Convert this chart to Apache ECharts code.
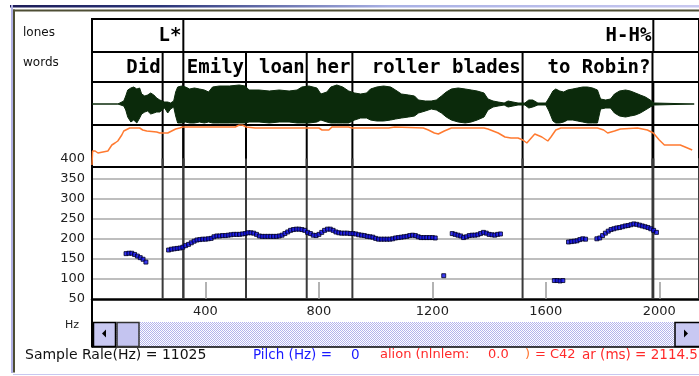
<!DOCTYPE html>
<html>
<head>
<meta charset="utf-8">
<script src="https://cdn.jsdelivr.net/npm/echarts@6/dist/echarts.min.js"></script>
<style>
  html, body { margin: 0; padding: 0; background: #fff; }
  #chart { width: 699px; height: 376px; }
</style>
</head>
<body>
<div id="chart"></div>
<script>
// ---- Annotation tiers (times in ms, each entry is the end of an interval) ----
const toneLabels = ['L*', 'H-H%', ''];
const toneEnds   = [322, 1979, 2140];
const wordLabels = ['Did', '', 'Emily', 'loan', 'her', 'roller blades', 'to Robin?', ''];
const wordEnds   = [249, 322, 543, 757, 918, 1518, 1976, 2140];

// ---- Waveform envelope (time in ms, positive / negative peak amplitude) ----
const waveTime  = [0, 91, 98, 112, 119, 126, 137, 147, 158, 168,
  175, 186, 196, 207, 218, 228, 239, 246, 256, 267,
  277, 288, 295, 302, 316, 330, 344, 361, 379, 396,
  411, 425, 449, 484, 519, 540, 554, 589, 625, 660,
  695, 723, 740, 765, 793, 807, 828, 842, 863, 884,
  905, 926, 947, 968, 982, 1004, 1028, 1053, 1070, 1091,
  1116, 1137, 1151, 1175, 1196, 1214, 1232, 1249, 1267, 1291,
  1316, 1337, 1358, 1382, 1396, 1414, 1432, 1453, 1467, 1484,
  1502, 1526, 1540, 1554, 1572, 1600, 1611, 1625, 1635, 1649,
  1663, 1677, 1695, 1712, 1730, 1747, 1765, 1782, 1793, 1811,
  1828, 1842, 1860, 1881, 1898, 1916, 1933, 1951, 1968, 1982,
  2123];
const waveUpper = [0, 0, 2, 3, 8, 14, 16, 17, 15, 16,
  10, 8, 9, 11, 9, 6, 4, 5, 2, 2,
  1, 3, 12, 17, 18, 17, 15, 16, 15, 14,
  12, 17, 18, 18, 19, 18, 14, 14, 13, 14,
  13, 14, 17, 18, 16, 10, 12, 17, 19, 17,
  13, 11, 10, 11, 15, 17, 18, 17, 14, 10,
  9, 8, 4, 3, 3, 4, 8, 12, 15, 16,
  15, 14, 13, 11, 5, 3, 2, 1, 3, 2,
  1, 1, 4, 4, 1, 1, 6, 13, 15, 13,
  12, 14, 15, 16, 17, 17, 16, 14, 5, 4,
  5, 10, 13, 14, 13, 11, 9, 7, 4, 1,
  0];
const waveLower = [0, 0, -1, -2, -6, -13, -18, -16, -19, -14,
  -10, -8, -7, -10, -9, -8, -8, -6, -4, -9,
  -5, -3, -12, -19, -19, -18, -19, -19, -18, -19,
  -18, -19, -19, -19, -19, -19, -18, -18, -19, -18,
  -18, -19, -19, -19, -18, -16, -18, -19, -19, -19,
  -19, -16, -14, -14, -16, -17, -17, -16, -15, -14,
  -13, -12, -9, -7, -5, -6, -9, -13, -16, -18,
  -19, -18, -16, -13, -6, -3, -2, -1, -3, -2,
  -1, -1, -4, -3, -1, -1, -7, -17, -19, -19,
  -18, -16, -16, -17, -18, -19, -19, -19, -5, -4,
  -4, -9, -12, -13, -12, -11, -9, -6, -3, -1,
  0];

// ---- Intensity contour (time in ms, level) ----
const intTime = [0, 2, 11, 21, 28, 56, 63, 70, 81, 91,
  98, 105, 112, 119, 133, 168, 179, 193, 228, 239,
  267, 281, 295, 309, 319, 505, 519, 530, 544, 575,
  800, 811, 835, 846, 905, 916, 1046, 1067, 1168, 1186,
  1207, 1221, 1242, 1267, 1382, 1396, 1432, 1456, 1477, 1502,
  1519, 1533, 1561, 1586, 1607, 1618, 1635, 1653, 1782, 1804,
  1818, 1842, 1863, 1923, 1958, 1979, 2000, 2018, 2074, 2091,
  2116];
const intLevel = [2, 16, 16, 14, 16, 16, 17, 22, 24, 26,
  28, 32, 36, 38, 39, 39, 37, 36, 35, 34,
  34, 36, 38, 39, 40, 40, 42, 42, 40, 39,
  39, 37, 37, 40, 40, 39, 39, 40, 39, 37,
  34, 33, 36, 39, 39, 38, 34, 30, 29, 29,
  27, 24, 33, 30, 26, 30, 37, 39, 39, 37,
  34, 36, 38, 39, 37, 34, 27, 22, 22, 20,
  17];

// ---- Pitch track (time in ms, F0 in Hz) ----
const pitchTime = [120, 130, 140, 150, 160, 170, 180, 190,
  270, 280, 290, 300, 310, 320, 330, 340, 350, 360, 370, 380, 390, 400, 410, 420,
  430, 440, 450, 460, 470, 480, 490, 500, 510, 520, 530, 540, 550, 560, 570, 580,
  590, 600, 610, 620, 630, 640, 650, 660, 670, 680, 690, 700, 710, 720, 730, 740,
  750, 760, 770, 780, 790, 800, 810, 820, 830, 840, 850, 860, 870, 880, 890, 900,
  910, 920, 930, 940, 950, 960, 970, 980, 990, 1000, 1010, 1020, 1030, 1040, 1050,
  1060, 1070, 1080, 1090, 1100, 1110, 1120, 1130, 1140, 1150, 1160, 1170, 1180,
  1190, 1200, 1210,
  1240,
  1270, 1280, 1290, 1300, 1310, 1320, 1330, 1340, 1350, 1360, 1370, 1380, 1390,
  1400, 1410, 1420, 1430, 1440,
  1630, 1640, 1650, 1660,
  1680, 1690, 1700, 1710, 1720, 1730, 1740,
  1780, 1790, 1800, 1810, 1820, 1830, 1840, 1850, 1860, 1870, 1880, 1890, 1900,
  1910, 1920, 1930, 1940, 1950, 1960, 1970, 1980, 1990];
const pitchHz = [163, 164, 164, 161, 157, 153, 149, 142,
  172, 174, 175, 176, 177, 179, 183, 186, 190, 194, 197, 198, 199, 199, 200, 201,
  205, 207, 207, 208, 208, 209, 210, 211, 211, 211, 212, 213, 215, 215, 214, 211,
  207, 206, 206, 206, 206, 206, 206, 207, 209, 213, 217, 221, 223, 224, 224, 223,
  221, 216, 213, 209, 208, 211, 216, 221, 224, 224, 221, 217, 215, 214, 214, 214,
  213, 213, 212, 210, 209, 208, 206, 205, 204, 201, 199, 199, 199, 199, 199,
  200, 202, 203, 204, 205, 206, 208, 209, 208, 205, 203, 203, 203,
  203, 203, 202,
  108,
  213, 211, 209, 207, 203, 205, 208, 209, 209, 210, 213, 216, 214,
  211, 210, 209, 211, 212,
  96, 96, 95, 96,
  192, 193, 194, 195, 198, 200, 199,
  200, 202, 208, 214, 219, 223, 225, 227, 228, 230, 232, 233, 235,
  237, 236, 234, 232, 230, 228, 225, 221, 216];

// ---- Axis ticks ----
const pitchTicks = [50, 100, 150, 200, 250, 300, 350, 400];
const timeTicks  = [400, 800, 1200, 1600, 2000];

// ---- Status line ----
const statusItems = [
  { text: 'Sample Rale(Hz) = 11025', x: 25,  color: '#111111', size: 14 },
  { text: 'Pilch (Hz) =',            x: 253, color: '#1a1aff', size: 13.5 },
  { text: '0',                       x: 351, color: '#1a1aff', size: 13.5 },
  { text: 'alion (nlnlem:',          x: 380, color: '#ff2a2a', size: 13 },
  { text: '0.0',                     x: 488, color: '#ff2a2a', size: 13 },
  { text: ')',                       x: 525, color: '#ff7733', size: 13 },
  { text: '= C42',                   x: 535, color: '#ff2a2a', size: 13 },
  { text: 'ar (ms) = 2114.5',        x: 582, color: '#ff2a2a', size: 13.5 }
];

const X_MAX = 2140;
const INK = '#0b2a0b';
const boundaries = wordEnds.concat(toneEnds);

const chart = echarts.init(document.getElementById('chart'), null, { renderer: 'canvas' });

function tierSeries(gridIdx, labels, ends) {
  return {
    type: 'custom', xAxisIndex: gridIdx, yAxisIndex: gridIdx,
    data: ends.map((e, i) => [e, i]),
    renderItem: function (params, api) {
      const cs = params.coordSys;
      const x = api.coord([api.value(0), 0])[0];
      const yMid = cs.y + cs.height / 2;
      return {
        type: 'group',
        children: [
          { type: 'line', shape: { x1: x, y1: cs.y, x2: x, y2: cs.y + cs.height },
            style: { stroke: '#000', lineWidth: 2 } },
          { type: 'text',
            style: { text: labels[api.value(1)], x: x - 2, y: yMid + 1,
              align: 'right', verticalAlign: 'middle',
              textAlign: 'right', textVerticalAlign: 'middle',
              font: 'bold 19px "DejaVu Sans Mono"', fill: '#000' } }
        ]
      };
    }
  };
}

function boundarySeries(gridIdx, color) {
  return {
    type: 'custom', xAxisIndex: gridIdx, yAxisIndex: gridIdx, z: 1,
    data: boundaries.map(e => [e]),
    renderItem: function (params, api) {
      const cs = params.coordSys;
      const x = api.coord([api.value(0), 0])[0];
      return { type: 'line', shape: { x1: x, y1: cs.y, x2: x, y2: cs.y + cs.height },
        style: { stroke: color, lineWidth: 2 } };
    }
  };
}

// dithered lavender fill for the scroll track
const dither = document.createElement('canvas');
dither.width = 2; dither.height = 2;
(function () {
  const c = dither.getContext('2d');
  c.fillStyle = '#ffffff'; c.fillRect(0, 0, 2, 2);
  c.fillStyle = '#b4b4ec'; c.fillRect(0, 0, 1, 1); c.fillRect(1, 1, 1, 1);
})();

const gridBase = { left: 92, width: 610, show: true, borderColor: '#000', borderWidth: 2, backgroundColor: 'transparent' };
const hiddenX = gi => ({ type: 'value', gridIndex: gi, min: 0, max: X_MAX, show: false });

const labelFont = { fontFamily: 'DejaVu Sans', fontSize: 13, color: '#222' };

const option = {
  animation: false,
  backgroundColor: '#fff',
  grid: [
    Object.assign({ top: 19, height: 33 }, gridBase),
    Object.assign({ top: 52, height: 30 }, gridBase),
    Object.assign({ top: 82, height: 43 }, gridBase),
    Object.assign({ top: 125, height: 42 }, gridBase),
    { left: 92, width: 610, top: 158.5, height: 140.5, show: false }
  ],
  xAxis: [
    hiddenX(0), hiddenX(1), hiddenX(2), hiddenX(3),
    {
      type: 'value', gridIndex: 4, min: 0, max: X_MAX, interval: 400,
      axisLine: { show: true, onZero: false, lineStyle: { color: '#000', width: 2.5 } },
      axisTick: { show: true, inside: true, length: 17, lineStyle: { color: '#9a9a9a', width: 1.5 } },
      axisLabel: Object.assign({ margin: 6, showMinLabel: false, showMaxLabel: false,
        formatter: v => (timeTicks.indexOf(v) >= 0 ? String(v) : '') }, labelFont),
      splitLine: { show: false }
    }
  ],
  yAxis: [
    { type: 'value', gridIndex: 0, min: 0, max: 1, show: false },
    { type: 'value', gridIndex: 1, min: 0, max: 1, show: false },
    { type: 'value', gridIndex: 2, min: -21, max: 22, show: false },
    { type: 'value', gridIndex: 3, min: 0, max: 42, show: false },
    {
      type: 'value', gridIndex: 4, min: pitchTicks[0], max: pitchTicks[pitchTicks.length - 1], interval: 50,
      axisLine: { show: true, onZero: false, lineStyle: { color: '#000', width: 2 } },
      axisTick: { show: false },
      axisLabel: Object.assign({ margin: 7 }, labelFont),
      splitLine: { show: true, showMinLine: false, showMaxLine: false,
        lineStyle: { color: '#a8a8a8', width: 1.5 } }
    }
  ],
  series: [
    tierSeries(0, toneLabels, toneEnds),
    tierSeries(1, wordLabels, wordEnds),
    {
      type: 'line', xAxisIndex: 2, yAxisIndex: 2, symbol: 'none', z: 2,
      data: waveTime.map((t, i) => [t, waveUpper[i]]),
      lineStyle: { color: INK, width: 1 }, areaStyle: { color: INK, opacity: 1 }
    },
    {
      type: 'line', xAxisIndex: 2, yAxisIndex: 2, symbol: 'none', z: 2,
      data: waveTime.map((t, i) => [t, waveLower[i]]),
      lineStyle: { color: INK, width: 1 }, areaStyle: { color: INK, opacity: 1 }
    },
    boundarySeries(2, '#000'),
    {
      type: 'line', xAxisIndex: 3, yAxisIndex: 3, symbol: 'none', z: 3,
      data: intTime.map((t, i) => [t, intLevel[i]]),
      lineStyle: { color: '#ff7a30', width: 1.5 }
    },
    boundarySeries(3, '#000'),
    boundarySeries(4, '#3a3a3a'),
    {
      type: 'scatter', xAxisIndex: 4, yAxisIndex: 4, z: 4,
      symbol: 'rect', symbolSize: 4,
      data: pitchTime.map((t, i) => [t, pitchHz[i]]),
      itemStyle: { color: '#0808f0', borderColor: '#000022', borderWidth: 1 }
    }
  ],
  graphic: [
    // window frame
    { type: 'rect', shape: { x: 10, y: 5, width: 689, height: 2.5 }, silent: true,
      style: { fill: new echarts.graphic.LinearGradient(0, 0, 1, 0, [
        { offset: 0, color: '#1c1c58' }, { offset: 0.22, color: '#2a3478' },
        { offset: 0.55, color: '#a8b0e4' }, { offset: 1, color: '#c8c8f0' }]) } },
    { type: 'rect', shape: { x: 11, y: 5, width: 2, height: 368 }, style: { fill: '#b0b0e4' }, silent: true },
    { type: 'rect', shape: { x: 13, y: 9.5, width: 686, height: 2 }, style: { fill: '#4e4e34' }, silent: true },
    { type: 'rect', shape: { x: 13, y: 9.5, width: 2, height: 363 }, style: { fill: '#4e4e34' }, silent: true },
    { type: 'rect', shape: { x: 13, y: 374, width: 686, height: 1 }, style: { fill: '#c8c8f0' }, silent: true },
    // tier names
    { type: 'text', x: 23, y: 33, silent: true,
      style: { text: 'lones', font: '12px "DejaVu Sans"', fill: '#111', verticalAlign: 'middle', textVerticalAlign: 'middle' } },
    { type: 'text', x: 23, y: 63, silent: true,
      style: { text: 'words', font: '12px "DejaVu Sans"', fill: '#111', verticalAlign: 'middle', textVerticalAlign: 'middle' } },
    { type: 'text', x: 65, y: 325, silent: true,
      style: { text: 'Hz', font: '11px "DejaVu Sans"', fill: '#222', verticalAlign: 'middle', textVerticalAlign: 'middle' } },
    // scroll bar
    { type: 'rect', shape: { x: 92, y: 322, width: 607, height: 25 }, silent: true,
      style: { fill: { image: dither, repeat: 'repeat' } } },
    { type: 'line', shape: { x1: 92, y1: 347, x2: 699, y2: 347 }, style: { stroke: '#000', lineWidth: 1.5 }, silent: true },
    { type: 'line', shape: { x1: 92, y1: 299, x2: 92, y2: 347.5 }, style: { stroke: '#000', lineWidth: 2 }, silent: true },
    { type: 'rect', shape: { x: 93.5, y: 322.5, width: 22, height: 24 }, silent: true,
      style: { fill: '#c8c8f2', stroke: '#000', lineWidth: 1.5 } },
    { type: 'polygon', shape: { points: [[102, 333.5], [106, 329.5], [106, 337.5]] }, style: { fill: '#000' }, silent: true },
    { type: 'rect', shape: { x: 117, y: 322.5, width: 22, height: 24 }, silent: true,
      style: { fill: '#c4c4f0', stroke: '#333', lineWidth: 1.5 } },
    { type: 'rect', shape: { x: 675, y: 322.5, width: 25, height: 24 }, silent: true,
      style: { fill: '#c8c8f2', stroke: '#000', lineWidth: 1.5 } },
    { type: 'polygon', shape: { points: [[688, 333.5], [684, 329.5], [684, 337.5]] }, style: { fill: '#000' }, silent: true }
  ].concat(statusItems.map(s => ({
    type: 'text', x: s.x, y: 355, silent: true,
    style: { text: s.text, font: s.size + 'px "DejaVu Sans"', fill: s.color, verticalAlign: 'middle', textVerticalAlign: 'middle' }
  })))
};

chart.setOption(option);
</script>
</body>
</html>
